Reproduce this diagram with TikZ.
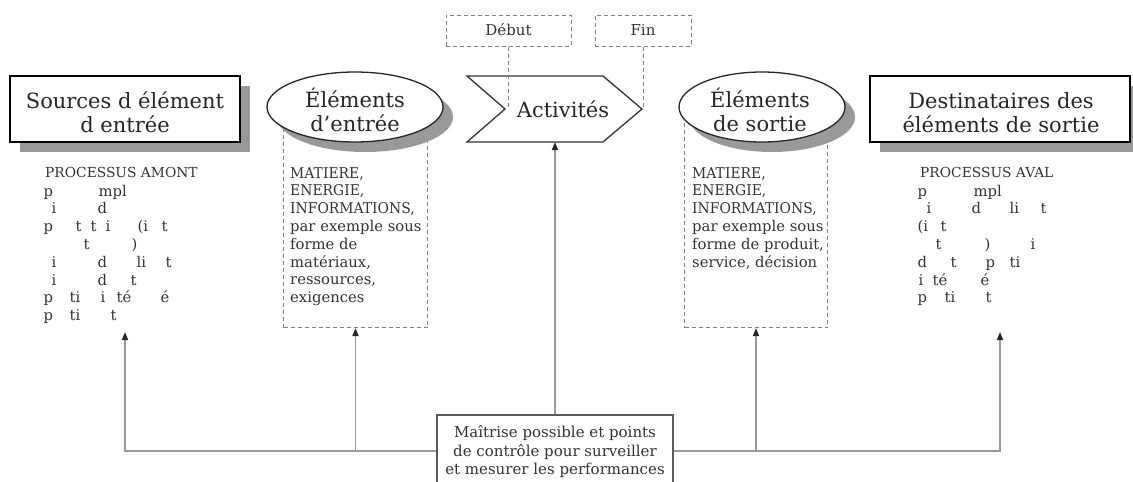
\documentclass[tikz,border=0pt]{standalone}
\usepackage{fontspec}
\usepackage{graphicx}
\setmainfont{DejaVu Serif}
\usetikzlibrary{arrows.meta,shadows,shapes.geometric}

% piece of a line placed at a horizontal offset (pt) from the line start
\newcommand{\frg}[2]{\makebox[0pt][l]{\hspace*{#1pt}#2}}
% slightly narrowed capitals
\newcommand{\capsnarrow}[1]{\scalebox{0.94}[1]{#1}}

\begin{document}
\begin{tikzpicture}[x=1pt,y=-1pt,
  shadowed/.style={drop shadow={shadow xshift=10pt,shadow yshift=-10pt,fill=black!40,opacity=1}},
  titlebox/.style={draw=black,line width=1.8pt,fill=white,inner sep=0pt,shadowed},
  ellbox/.style={ellipse,draw=black!85,line width=1.3pt,fill=white,inner sep=0pt,shadowed},
  dashbox/.style={draw=black!50,line width=1pt,dash pattern=on 4pt off 3pt,inner sep=0pt},
  dashline/.style={draw=black!50,line width=1pt,dash pattern=on 4pt off 3pt},
  ctrlbox/.style={draw=black!65,line width=1.3pt,fill=white,inner sep=0pt},
  conn/.style={draw=black!40,line width=1.6pt},
  tip/.tip={Triangle[length=8pt,width=6pt,color=black!85]},
  titletxt/.style={font=\fontsize{21}{24}\selectfont,text=black!85,inner sep=0pt,anchor=base},
  listtxt/.style={font=\fontsize{14.8}{17.8}\selectfont,text=black!80,inner sep=0pt,anchor=base west},
  captxt/.style={font=\fontsize{13.8}{16}\selectfont,text=black!80,inner sep=0pt,anchor=base west},
  smalltxt/.style={font=\fontsize{15}{16}\selectfont,text=black!80,inner sep=0pt,anchor=base},
  ctrltxt/.style={font=\fontsize{15}{18}\selectfont,text=black!80,inner sep=0pt,anchor=base}
]
\useasboundingbox (0,0) rectangle (1133,482);

% ---------- sources (left) ----------
\node[titlebox,minimum width=230,minimum height=66] (src) at (125,109) {};
\node[titletxt] (srcA) at (125,108) {Sources d élément};
\node[titletxt] (srcB) at (125,132) {d entrée};
\node[captxt] (srcP) at (45,177) {PROCESSUS AMONT};
\foreach \txt [count=\i] in {
  {\frg{0}{p}\frg{55}{mpl}},
  {\frg{8}{i}\frg{54}{d}},
  {\frg{0}{p}\frg{32}{t}\frg{47}{t}\frg{62}{i}\frg{94}{(i}\frg{118}{t}},
  {\frg{40}{t}\frg{88}{)}},
  {\frg{8}{i}\frg{54}{d}\frg{93}{li}\frg{122}{t}},
  {\frg{8}{i}\frg{54}{d}\frg{87}{t}},
  {\frg{0}{p}\frg{26}{ti}\frg{57}{i}\frg{73}{té}\frg{117}{é}},
  {\frg{0}{p}\frg{26}{ti}\frg{67}{t}}}
  \node[listtxt,name=srcL\i] at (43,{196+17.8*(\i-1)}) {\txt};

% ---------- inputs ----------
\node[dashbox,minimum width=144,minimum height=208,anchor=south west] (inbox) at (283,328) {};
\node[ellbox,minimum width=176,minimum height=70] (inell) at (355,107) {};
\node[titletxt] (inA) at (355,107) {Éléments};
\node[titletxt] (inB) at (355,131) {d’entrée};
\foreach \txt [count=\i] in {{\capsnarrow{MATIERE,}},{\capsnarrow{ENERGIE,}},{\capsnarrow{INFORMATIONS,}},{par exemple sous},{forme de},{matériaux,},{ressources,},{exigences}}
  \node[listtxt,name=inL\i] at (290,{178+17.8*(\i-1)}) {\txt};

% ---------- activities ----------
\coordinate (chA) at (467,76);
\coordinate (chB) at (603,76);
\coordinate (chC) at (642,109);
\coordinate (chD) at (603,142);
\coordinate (chE) at (467,142);
\coordinate (chF) at (505,109);
\fill[black!40,shift={(10,10)}] (chA) -- (chB) -- (chC) -- (chD) -- (chE) -- (chF) -- cycle;
\draw[black!80,line width=1.3pt,fill=white] (chA) -- (chB) -- (chC) -- (chD) -- (chE) -- (chF) -- cycle;
\node[titletxt] (act) at (563,117) {Activités};

\node[dashbox,minimum width=125,minimum height=31] (deb) at (508.5,30.5) {};
\node[smalltxt] (debT) at (508.5,35) {Début};
\node[dashbox,minimum width=96,minimum height=31] (fin) at (643,30.5) {};
\node[smalltxt] (finT) at (643,35) {Fin};
\draw[dashline] (deb.south) -- (deb.south |- chF);
\draw[dashline] (fin.south) -- (fin.south |- chC);

% ---------- outputs ----------
\node[dashbox,minimum width=143,minimum height=208,anchor=south west] (outbox) at (684,328) {};
\node[ellbox,minimum width=166,minimum height=70] (outell) at (762,107) {};
\node[titletxt] (outA) at (760,107) {Éléments};
\node[titletxt] (outB) at (760,131) {de sortie};
\foreach \txt [count=\i] in {{\capsnarrow{MATIERE,}},{\capsnarrow{ENERGIE,}},{\capsnarrow{INFORMATIONS,}},{par exemple sous},{forme de produit,},{service, décision}}
  \node[listtxt,name=outL\i] at (692,{178+17.8*(\i-1)}) {\txt};

% ---------- destinations (right) ----------
\node[titlebox,minimum width=260,minimum height=66] (dst) at (1000,109) {};
\node[titletxt] (dstA) at (1001,108) {Destinataires des};
\node[titletxt] (dstB) at (1001,132) {éléments de sortie};
\node[captxt] (dstP) at (920,177) {PROCESSUS AVAL};
\foreach \txt [count=\i] in {
  {\frg{0}{p}\frg{56}{mpl}},
  {\frg{9}{i}\frg{54}{d}\frg{92}{li}\frg{123}{t}},
  {\frg{0}{(i}\frg{23}{t}},
  {\frg{18}{t}\frg{67}{)}\frg{113}{i}},
  {\frg{0}{d}\frg{33}{t}\frg{68}{p}\frg{92}{ti}},
  {\frg{1}{i}\frg{15}{té}\frg{63}{é}},
  {\frg{0}{p}\frg{27}{ti}\frg{68}{t}}}
  \node[listtxt,name=dstL\i] at (917,{196+17.8*(\i-1)}) {\txt};

% ---------- control and feedback ----------
\node[ctrlbox,minimum width=236,minimum height=72] (ctrl) at (555,451) {};
\node[ctrltxt] (ctrlA) at (555,437) {Maîtrise possible et points};
\node[ctrltxt] (ctrlB) at (555,456) {de contrôle pour surveiller};
\node[ctrltxt] (ctrlC) at (555,474) {et mesurer les performances};

\coordinate (srcend) at (125,332);
\coordinate (dstend) at (1000,332);
\draw[conn,-tip] (ctrl.west) -| (srcend);
\draw[conn,-tip] (inbox.south |- ctrl.west) -- (inbox.south);
\draw[conn,-tip] (ctrl.north) -- (ctrl.north |- chE);
\draw[conn,-tip] (outbox.south |- ctrl.east) -- (outbox.south);
\draw[conn,-tip] (ctrl.east) -| (dstend);
\end{tikzpicture}
\end{document}
